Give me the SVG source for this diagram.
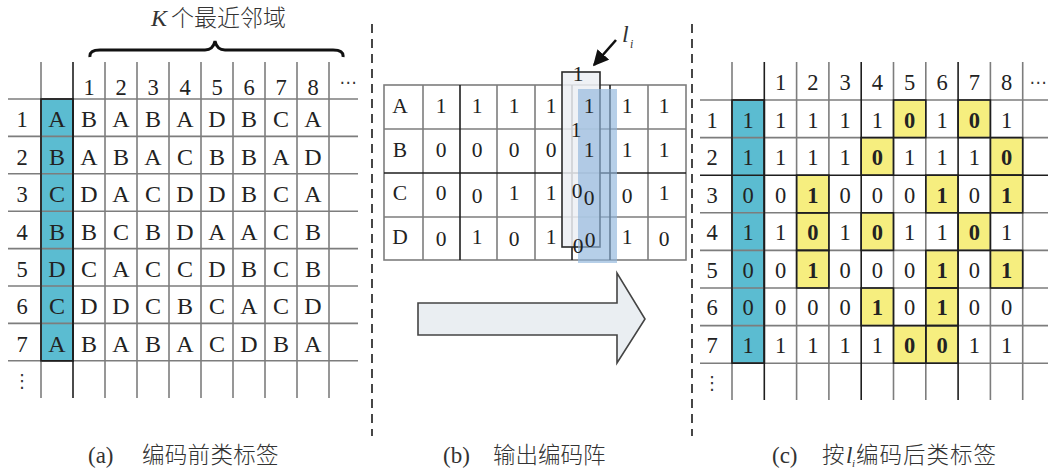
<svg xmlns="http://www.w3.org/2000/svg" width="1051" height="470" viewBox="0 0 1051 470">
<style>
.t{font-family:"Liberation Serif","Times New Roman",serif;font-size:24px;fill:#222;text-anchor:middle}
.s{font-size:22.5px}
.m{font-size:21.5px}
.b{font-weight:bold}
.g{stroke:#7d7d7d;stroke-width:1.6;fill:none}
.k{stroke:#1e1e1e;stroke-width:1.6;fill:none}
.teal{fill:#5bbcd1;stroke:#1e1e1e;stroke-width:1.6}
.cap{font-family:"Liberation Serif","Times New Roman",serif;font-size:23px;fill:#333}
.cj{font-family:"Noto Sans CJK SC","Noto Sans CJK JP",sans-serif;font-weight:300;fill:#333}
.dash{stroke:#333;stroke-width:1.8;stroke-dasharray:9 6;fill:none}
.sym{font-family:"DejaVu Sans",sans-serif;fill:#333;text-anchor:middle}
</style>
<defs>
<marker id="ah" viewBox="0 0 10 10" refX="9" refY="5" markerWidth="6" markerHeight="6" orient="auto" markerUnits="strokeWidth">
<path d="M0,0 L10,5 L0,10 z" fill="#111"/>
</marker>
</defs>
<rect width="1051" height="470" fill="#fff"/>

<!-- separators -->
<line class="dash" x1="372" y1="24" x2="372" y2="436"/>
<line class="dash" x1="692" y1="24" x2="692" y2="436"/>

<!-- (a) table -->
<g id="table-a">
<text x="151" y="26" class="cap" font-style="italic" style="font-size:24px">K</text>
<text x="171" y="26" class="cj" style="font-size:23px">个最近邻域</text>
<path d="M90,57 Q89,50 100,50 L205,50 Q213,50 215,41 Q217,50 225,50 L333,50 Q344,50 343,57" fill="none" stroke="#111" stroke-width="3"/>
<rect class="teal" x="41" y="99" width="32" height="261.8"/>
<g class="g">
<line x1="8" y1="99" x2="358" y2="99"/><line x1="8" y1="136.4" x2="358" y2="136.4"/><line x1="8" y1="173.8" x2="358" y2="173.8"/><line x1="8" y1="211.2" x2="358" y2="211.2"/><line x1="8" y1="248.6" x2="358" y2="248.6"/><line x1="8" y1="286" x2="358" y2="286"/><line x1="8" y1="323.4" x2="358" y2="323.4"/><line x1="8" y1="360.8" x2="358" y2="360.8"/>
<line x1="41" y1="62" x2="41" y2="398"/><line x1="105" y1="62" x2="105" y2="398"/><line x1="137" y1="62" x2="137" y2="398"/><line x1="169" y1="62" x2="169" y2="398"/><line x1="201" y1="62" x2="201" y2="398"/><line x1="233" y1="62" x2="233" y2="398"/><line x1="265" y1="62" x2="265" y2="398"/><line x1="297" y1="62" x2="297" y2="398"/><line x1="329" y1="62" x2="329" y2="398"/>
</g>
<line class="k" x1="73" y1="62" x2="73" y2="398"/>
<rect x="41" y="99" width="32" height="261.8" fill="none" stroke="#1e1e1e" stroke-width="1.6"/>
<g class="t s">
<text x="89" y="94.5">1</text><text x="121" y="94.5">2</text><text x="153" y="94.5">3</text><text x="185" y="94.5">4</text><text x="217" y="94.5">5</text><text x="249" y="94.5">6</text><text x="281" y="94.5">7</text><text x="313" y="94.5">8</text>
<text x="22" y="127">1</text><text x="22" y="164.5">2</text><text x="22" y="202">3</text><text x="22" y="239.5">4</text><text x="22" y="277">5</text><text x="22" y="314">6</text><text x="22" y="351.5">7</text>
</g>
<text class="sym" x="348" y="88" style="font-size:17px">⋯</text>
<text class="sym" x="22" y="387" style="font-size:18px">⋮</text>
<g class="t">
<text x="57" y="127">A</text><text x="89" y="127">B</text><text x="121" y="127">A</text><text x="153" y="127">B</text><text x="185" y="127">A</text><text x="217" y="127">D</text><text x="249" y="127">B</text><text x="281" y="127">C</text><text x="313" y="127">A</text>
<text x="57" y="164.5">B</text><text x="89" y="164.5">A</text><text x="121" y="164.5">B</text><text x="153" y="164.5">A</text><text x="185" y="164.5">C</text><text x="217" y="164.5">B</text><text x="249" y="164.5">B</text><text x="281" y="164.5">A</text><text x="313" y="164.5">D</text>
<text x="57" y="202">C</text><text x="89" y="202">D</text><text x="121" y="202">A</text><text x="153" y="202">C</text><text x="185" y="202">D</text><text x="217" y="202">D</text><text x="249" y="202">B</text><text x="281" y="202">C</text><text x="313" y="202">A</text>
<text x="57" y="239.5">B</text><text x="89" y="239.5">B</text><text x="121" y="239.5">C</text><text x="153" y="239.5">B</text><text x="185" y="239.5">D</text><text x="217" y="239.5">A</text><text x="249" y="239.5">A</text><text x="281" y="239.5">C</text><text x="313" y="239.5">B</text>
<text x="57" y="277">D</text><text x="89" y="277">C</text><text x="121" y="277">A</text><text x="153" y="277">C</text><text x="185" y="277">C</text><text x="217" y="277">D</text><text x="249" y="277">B</text><text x="281" y="277">C</text><text x="313" y="277">B</text>
<text x="57" y="314">C</text><text x="89" y="314">D</text><text x="121" y="314">D</text><text x="153" y="314">C</text><text x="185" y="314">B</text><text x="217" y="314">C</text><text x="249" y="314">A</text><text x="281" y="314">C</text><text x="313" y="314">D</text>
<text x="57" y="351.5">A</text><text x="89" y="351.5">B</text><text x="121" y="351.5">A</text><text x="153" y="351.5">B</text><text x="185" y="351.5">A</text><text x="217" y="351.5">C</text><text x="249" y="351.5">D</text><text x="281" y="351.5">B</text><text x="313" y="351.5">A</text>
</g>
</g>

<!-- (b) table -->
<g id="table-b">
<rect x="384" y="85" width="302" height="175" fill="#fff"/>
<g class="g">
<rect x="384" y="85" width="302" height="175"/>
<line x1="384" y1="129" x2="686" y2="129"/><line x1="384" y1="217" x2="686" y2="217"/>
<line x1="423" y1="85" x2="423" y2="260"/><line x1="497" y1="85" x2="497" y2="260"/><line x1="535" y1="85" x2="535" y2="260"/><line x1="648" y1="85" x2="648" y2="260"/>
</g>
<g class="k">
<line x1="384" y1="173" x2="686" y2="173"/>
<line x1="460" y1="85" x2="460" y2="260"/><line x1="572" y1="85" x2="572" y2="260"/><line x1="610" y1="85" x2="610" y2="260"/>
</g>
<rect x="562" y="72" width="38" height="175" fill="#eceff3" fill-opacity="0.85" stroke="#2a2a2a" stroke-width="1.6"/>
<rect x="578" y="89" width="39" height="174" fill="#8fb5db" fill-opacity="0.65"/>
<g class="t m">
<text x="400" y="113">A</text><text x="441" y="113">1</text><text x="477" y="113">1</text><text x="514" y="113">1</text><text x="551" y="113">1</text><text x="589" y="113">1</text><text x="627" y="113">1</text><text x="664" y="113">1</text>
<text x="400" y="157">B</text><text x="441" y="157">0</text><text x="477" y="157">0</text><text x="514" y="157">0</text><text x="551" y="157">0</text><text x="589" y="157">1</text><text x="627" y="157">1</text><text x="664" y="157">1</text>
<text x="400" y="200">C</text><text x="441" y="200">0</text><text x="477" y="203">0</text><text x="514" y="200">1</text><text x="551" y="200">1</text><text x="589" y="205">0</text><text x="627" y="203">0</text><text x="664" y="200">1</text>
<text x="400" y="244">D</text><text x="441" y="246">0</text><text x="477" y="244">1</text><text x="514" y="246">0</text><text x="551" y="244">1</text><text x="590" y="247">0</text><text x="627" y="244">1</text><text x="664" y="246">0</text>
<text x="578" y="81">1</text><text x="576" y="137">1</text><text x="577" y="198">0</text><text x="578" y="253">0</text>
</g>
<text x="622" y="42" class="cap" font-style="italic" style="font-size:24px">l</text>
<text x="630" y="48" class="cap" font-style="italic" style="font-size:12px">i</text>
</g>

<!-- (c) table -->
<g id="table-c">
<rect class="teal" x="732" y="100" width="32.3" height="263.2"/>
<g fill="#f6ee7f">
<rect x="893.5" y="100" width="32.3" height="37.6"/><rect x="958.1" y="100" width="32.3" height="37.6"/>
<rect x="861.2" y="137.6" width="32.3" height="37.6"/><rect x="990.4" y="137.6" width="32.3" height="37.6"/>
<rect x="796.6" y="175.2" width="32.3" height="37.6"/><rect x="925.8" y="175.2" width="32.3" height="37.6"/><rect x="990.4" y="175.2" width="32.3" height="37.6"/>
<rect x="796.6" y="212.8" width="32.3" height="37.6"/><rect x="861.2" y="212.8" width="32.3" height="37.6"/><rect x="958.1" y="212.8" width="32.3" height="37.6"/>
<rect x="796.6" y="250.4" width="32.3" height="37.6"/><rect x="925.8" y="250.4" width="32.3" height="37.6"/><rect x="990.4" y="250.4" width="32.3" height="37.6"/>
<rect x="861.2" y="288" width="32.3" height="37.6"/><rect x="925.8" y="288" width="32.3" height="37.6"/>
<rect x="893.5" y="325.6" width="32.3" height="37.6"/><rect x="925.8" y="325.6" width="32.3" height="37.6"/>
</g>
<g class="g">
<line x1="700" y1="100" x2="1048" y2="100"/><line x1="700" y1="137.6" x2="1048" y2="137.6"/><line x1="700" y1="212.8" x2="1048" y2="212.8"/><line x1="700" y1="250.4" x2="1048" y2="250.4"/><line x1="700" y1="288" x2="1048" y2="288"/><line x1="700" y1="325.6" x2="1048" y2="325.6"/><line x1="700" y1="363.2" x2="1048" y2="363.2"/>
<line x1="732" y1="62" x2="732" y2="400"/><line x1="796.6" y1="62" x2="796.6" y2="400"/><line x1="828.9" y1="62" x2="828.9" y2="400"/><line x1="893.5" y1="62" x2="893.5" y2="400"/><line x1="925.8" y1="62" x2="925.8" y2="400"/><line x1="990.4" y1="62" x2="990.4" y2="400"/><line x1="1022.7" y1="62" x2="1022.7" y2="400"/>
</g>
<g class="k">
<line x1="700" y1="175.2" x2="1048" y2="175.2"/>
<line x1="764.3" y1="62" x2="764.3" y2="400"/><line x1="861.2" y1="62" x2="861.2" y2="400"/><line x1="958.1" y1="62" x2="958.1" y2="400"/>
</g>
<g fill="none" stroke="#1e1e1e" stroke-width="1.6">
<rect x="732" y="100" width="32.3" height="263.2"/>
<rect x="893.5" y="100" width="32.3" height="37.6"/><rect x="958.1" y="100" width="32.3" height="37.6"/>
<rect x="861.2" y="137.6" width="32.3" height="37.6"/><rect x="990.4" y="137.6" width="32.3" height="37.6"/>
<rect x="796.6" y="175.2" width="32.3" height="37.6"/><rect x="925.8" y="175.2" width="32.3" height="37.6"/><rect x="990.4" y="175.2" width="32.3" height="37.6"/>
<rect x="796.6" y="212.8" width="32.3" height="37.6"/><rect x="861.2" y="212.8" width="32.3" height="37.6"/><rect x="958.1" y="212.8" width="32.3" height="37.6"/>
<rect x="796.6" y="250.4" width="32.3" height="37.6"/><rect x="925.8" y="250.4" width="32.3" height="37.6"/><rect x="990.4" y="250.4" width="32.3" height="37.6"/>
<rect x="861.2" y="288" width="32.3" height="37.6"/><rect x="925.8" y="288" width="32.3" height="37.6"/>
<rect x="893.5" y="325.6" width="32.3" height="37.6"/><rect x="925.8" y="325.6" width="32.3" height="37.6"/>
</g>
<g class="t s">
<text x="780.5" y="89.5">1</text><text x="812.8" y="89.5">2</text><text x="845" y="89.5">3</text><text x="877.4" y="89.5">4</text><text x="909.7" y="89.5">5</text><text x="942" y="89.5">6</text><text x="974.3" y="89.5">7</text><text x="1006.6" y="89.5">8</text>
<text x="712" y="127.5">1</text><text x="712" y="165">2</text><text x="712" y="202.5">3</text><text x="712" y="240">4</text><text x="712" y="277.5">5</text><text x="712" y="315">6</text><text x="712" y="352.5">7</text>
</g>
<text class="sym" x="1038" y="88" style="font-size:17px">⋯</text>
<text class="sym" x="712" y="389" style="font-size:18px">⋮</text>
<g class="t s">
<text x="748" y="127.5">1</text><text x="780.5" y="127.5">1</text><text x="812.8" y="127.5">1</text><text x="845" y="127.5">1</text><text x="877.4" y="127.5">1</text><text x="909.7" y="127.5" class="b">0</text><text x="942" y="127.5">1</text><text x="974.3" y="127.5" class="b">0</text><text x="1006.6" y="127.5">1</text>
<text x="748" y="165">1</text><text x="780.5" y="165">1</text><text x="812.8" y="165">1</text><text x="845" y="165">1</text><text x="877.4" y="165" class="b">0</text><text x="909.7" y="165">1</text><text x="942" y="165">1</text><text x="974.3" y="165">1</text><text x="1006.6" y="165" class="b">0</text>
<text x="748" y="202.5">0</text><text x="780.5" y="202.5">0</text><text x="812.8" y="202.5" class="b">1</text><text x="845" y="202.5">0</text><text x="877.4" y="202.5">0</text><text x="909.7" y="202.5">0</text><text x="942" y="202.5" class="b">1</text><text x="974.3" y="202.5">0</text><text x="1006.6" y="202.5" class="b">1</text>
<text x="748" y="240">1</text><text x="780.5" y="240">1</text><text x="812.8" y="240" class="b">0</text><text x="845" y="240">1</text><text x="877.4" y="240" class="b">0</text><text x="909.7" y="240">1</text><text x="942" y="240">1</text><text x="974.3" y="240" class="b">0</text><text x="1006.6" y="240">1</text>
<text x="748" y="277.5">0</text><text x="780.5" y="277.5">0</text><text x="812.8" y="277.5" class="b">1</text><text x="845" y="277.5">0</text><text x="877.4" y="277.5">0</text><text x="909.7" y="277.5">0</text><text x="942" y="277.5" class="b">1</text><text x="974.3" y="277.5">0</text><text x="1006.6" y="277.5" class="b">1</text>
<text x="748" y="315">0</text><text x="780.5" y="315">0</text><text x="812.8" y="315">0</text><text x="845" y="315">0</text><text x="877.4" y="315" class="b">1</text><text x="909.7" y="315">0</text><text x="942" y="315" class="b">1</text><text x="974.3" y="315">0</text><text x="1006.6" y="315">0</text>
<text x="748" y="352.5">1</text><text x="780.5" y="352.5">1</text><text x="812.8" y="352.5">1</text><text x="845" y="352.5">1</text><text x="877.4" y="352.5">1</text><text x="909.7" y="352.5" class="b">0</text><text x="942" y="352.5" class="b">0</text><text x="974.3" y="352.5">1</text><text x="1006.6" y="352.5">1</text>
</g>
</g>

<!-- connectors -->
<g id="connectors">
<line x1="616" y1="40" x2="594" y2="65" stroke="#111" stroke-width="2.6" marker-end="url(#ah)"/>
<polygon points="418,303 617,303 617,273 645,319 617,363 617,335 418,335" fill="#eaeef2" stroke="#444" stroke-width="1.6"/>
</g>

<!-- captions -->
<g id="captions">
<text x="88" y="463" class="cap">(a)</text>
<text x="142" y="463" class="cj" style="font-size:22.5px;letter-spacing:0.3px">编码前类标签</text>
<text x="443" y="463" class="cap">(b)</text>
<text x="493" y="463" class="cj" style="font-size:22.5px;letter-spacing:0px">输出编码阵</text>
<text x="772" y="463" class="cap">(c)</text>
<text x="822" y="463" class="cj" style="font-size:22.5px">按</text>
<text x="846" y="463" class="cap" font-style="italic">l</text>
<text x="852" y="467" class="cap" font-style="italic" style="font-size:11px">i</text>
<text x="856" y="463" class="cj" style="font-size:22.5px;letter-spacing:1px">编码后类标签</text>
</g>
</svg>
